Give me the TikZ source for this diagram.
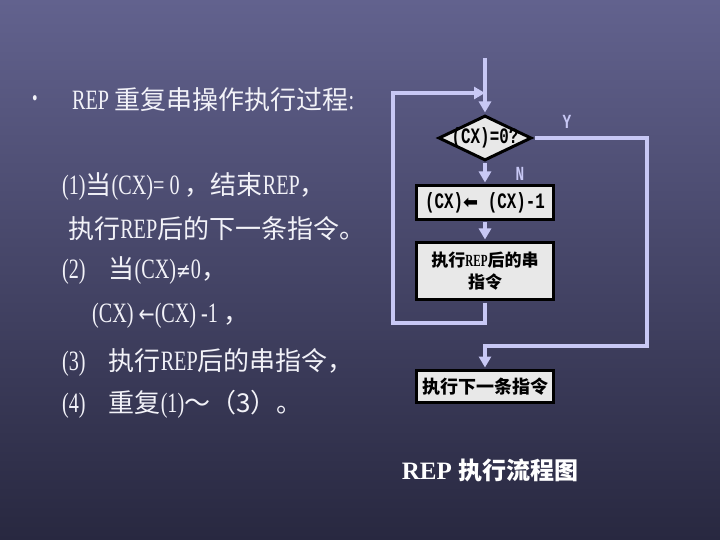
\documentclass[tikz,border=0pt]{standalone}
\usepackage{fontspec}
\usetikzlibrary{shapes.geometric,arrows.meta}
\setmainfont{Liberation Serif}[FakeStretch=0.72]
\newfontfamily\capserif{Liberation Serif}
\newfontfamily\cjk[Scale=0.93]{Noto Sans CJK SC}
\newfontfamily\cjkb{Noto Sans CJK SC}
\newfontfamily\monob[FakeStretch=0.72]{Liberation Mono}
\newfontfamily\serifn[FakeStretch=0.65]{Liberation Serif}
\newfontfamily\djv{DejaVu Sans}
\newfontfamily\djvn[FakeStretch=0.8]{DejaVu Sans}
\newcommand{\zh}[1]{{\cjk #1}}
\definecolor{lav}{RGB}{200,200,245}
\definecolor{boxgray}{RGB}{232,232,232}
\definecolor{txtc}{RGB}{242,242,248}
\definecolor{bgtop}{RGB}{98,98,142}
\definecolor{bgbot}{RGB}{40,40,64}
\begin{document}
\begin{tikzpicture}[x=1pt,y=-1pt,
  conn/.style={draw=lav,line width=4pt},
  arr/.style={-{Triangle[length=11pt,width=12pt]}},
  box/.style={draw=black,line width=3pt,fill=boxgray,minimum width=137pt,inner sep=0pt},
  txt/.style={text=txtc,font=\fontsize{28}{30}\selectfont,anchor=west,inner sep=0pt},
  yn/.style={text=lav,font=\fontsize{20}{20}\selectfont\monob\bfseries,inner sep=0pt}
]
\shade[top color=bgtop,bottom color=bgbot] (0,0) rectangle (720,540);
\useasboundingbox (0,0) rectangle (720,540);

% left text
\node[txt] (bul) at (32,101) {\fontsize{22}{22}\selectfont •};
\node[txt] (t0) at (72,100) {REP \zh{重复串操作执行过程}:};
\node[txt] (t1) at (62,187) {(1)\zh{当}(CX)= 0 \zh{，结束}REP\zh{，}};
\node[txt] (t2) at (68,229) {\zh{执行}REP\zh{后的下一条指令。}};
\node[txt] (t3) at (62,271) {(2)\hspace{23pt}\zh{当}(CX){\djvn\fontsize{22}{22}\selectfont ≠}0\zh{，}};
\node[txt] (t4) at (92,316) {(CX) {\djvn\fontsize{24}{24}\selectfont ←}(CX) -1 \zh{，}};
\node[txt] (t5) at (62,362) {(3)\hspace{23pt}\zh{执行}REP\zh{后的串指令，}};
\node[txt] (t6) at (62,404) {(4)\hspace{23pt}\zh{重复}(1)\zh{～（3）。}};

% flowchart nodes
\node[diamond,draw=black,line width=3pt,fill=boxgray,aspect=2.07,minimum width=93pt,minimum height=45pt,inner xsep=-6pt,inner ysep=-2pt,font=\fontsize{22}{22}\selectfont\monob\bfseries] (d) at (485,138) {(CX)=0?};
\node[box,minimum height=34pt,font=\fontsize{22}{22}\selectfont\monob\bfseries] (b1) at (485,202.5) {(CX){\djv\fontsize{18}{18}\selectfont ⬅}\ (CX)-1};
\node[box,minimum height=57pt,align=center,font=\fontsize{17}{22}\selectfont\bfseries] (b2) at (485,271)
  {{\cjkb 执行}{\serifn REP}{\cjkb 后的串}\\{\cjkb 指令}};
\node[box,minimum height=32pt,font=\fontsize{18}{18}\selectfont\cjkb\bfseries] (b3) at (485,386.5) {执行下一条指令};

\node[yn] (ly) at (567,122) {Y};
\node[yn] (ln) at (520,174) {N};

% connectors
\coordinate (start) at (485,58);
\coordinate (join) at (485,93);
\draw[conn] (start) -- (join);
\draw[conn,arr,shorten >=1.5pt] (join) -- (d.north);
\draw[conn,arr,shorten >=1.5pt,shorten <=1.5pt] (d.south) -- (b1.north);
\draw[conn,arr,shorten >=1.5pt,shorten <=1.5pt] (b1.south) -- (b2.north);
\draw[conn,arr,shorten <=1.5pt] (b2.south) -- ++(0,22) -| (393,93) -- (join);
\draw[conn,arr,shorten >=1.5pt,shorten <=1.5pt] (d.east) -| (647,346) -| (b3.north);

% caption
\node[text=white,inner sep=0pt,font=\fontsize{25}{25}\selectfont\capserif\bfseries] (cap) at (490,470) {REP {\cjkb\fontsize{24}{24}\selectfont 执行流程图}};
\end{tikzpicture}
\end{document}
